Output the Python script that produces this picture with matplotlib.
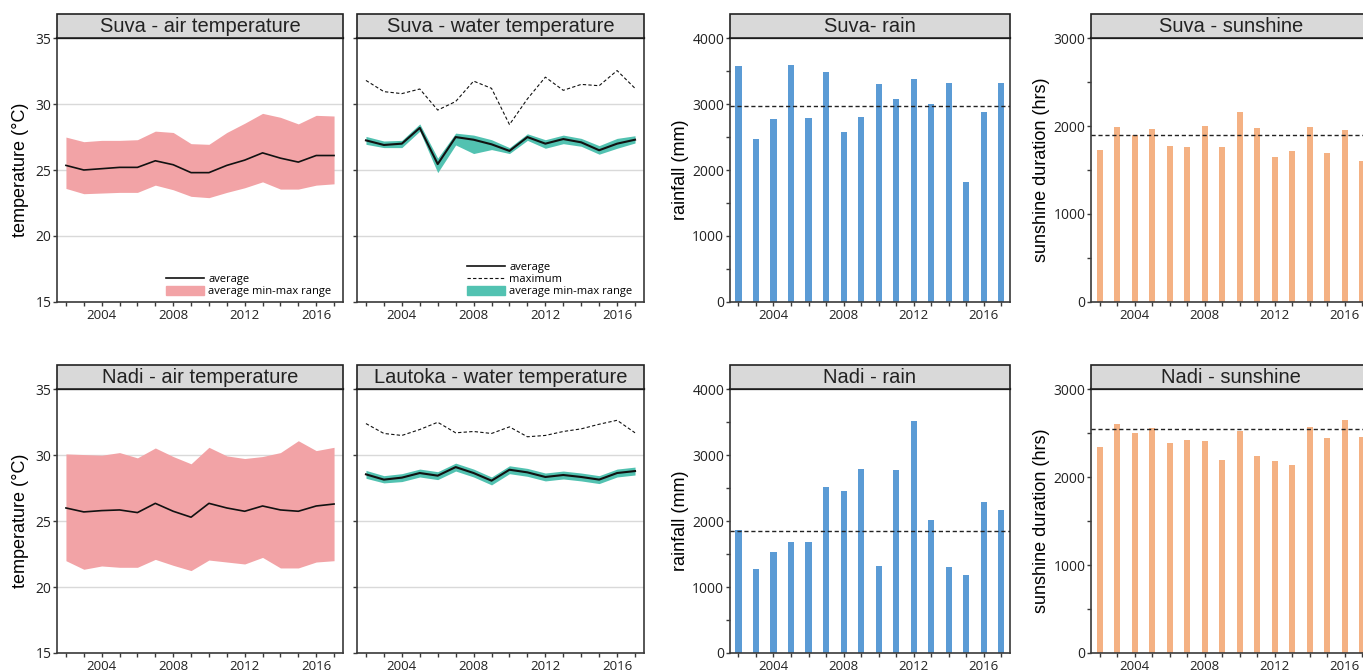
import numpy as np
import matplotlib
matplotlib.use("Agg")
import matplotlib.pyplot as plt
import matplotlib.patches as mpatches
from matplotlib.lines import Line2D
from matplotlib.ticker import FixedLocator, MultipleLocator

years = list(range(2002, 2018))
year_labels = [2004, 2008, 2012, 2016]

# Suva air temperature
suva_air_avg = [25.35, 25.0, 25.1, 25.2, 25.2, 25.7, 25.4, 24.8, 24.8, 25.35, 25.75, 26.3, 25.9, 25.6, 26.1, 26.1]
suva_air_max = [27.5, 27.15, 27.25, 27.25, 27.3, 27.95, 27.85, 27.0, 26.95, 27.85, 28.55, 29.3, 29.0, 28.5, 29.15, 29.1]
suva_air_min = [23.6, 23.2, 23.25, 23.3, 23.3, 23.85, 23.5, 23.0, 22.9, 23.3, 23.65, 24.1, 23.55, 23.55, 23.85, 23.95]

# Nadi air temperature
nadi_air_avg = [26.0, 25.7, 25.8, 25.85, 25.65, 26.35, 25.75, 25.3, 26.35, 26.0, 25.75, 26.15, 25.85, 25.75, 26.15, 26.3]
nadi_air_max = [30.1, 30.05, 30.0, 30.2, 29.8, 30.55, 29.9, 29.35, 30.6, 29.95, 29.75, 29.9, 30.2, 31.1, 30.35, 30.6]
nadi_air_min = [22.0, 21.35, 21.6, 21.5, 21.5, 22.1, 21.65, 21.25, 22.05, 21.9, 21.75, 22.25, 21.45, 21.45, 21.9, 22.0]

# Suva water temperature
suva_water_avg = [27.25, 26.9, 27.0, 28.2, 25.45, 27.5, 27.3, 26.95, 26.45, 27.5, 27.0, 27.35, 27.1, 26.5, 27.0, 27.3]
suva_water_hi = [27.55, 27.2, 27.25, 28.5, 25.9, 27.8, 27.65, 27.3, 26.7, 27.75, 27.3, 27.65, 27.4, 26.85, 27.4, 27.6]
suva_water_lo = [26.95, 26.7, 26.7, 27.95, 24.8, 26.9, 26.25, 26.55, 26.25, 27.25, 26.65, 27.0, 26.8, 26.2, 26.65, 27.05]
suva_water_max = [31.8, 30.95, 30.8, 31.15, 29.55, 30.2, 31.75, 31.2, 28.45, 30.4, 32.05, 31.05, 31.5, 31.4, 32.55, 31.2]

# Lautoka water temperature
lautoka_water_avg = [28.55, 28.15, 28.3, 28.65, 28.45, 29.1, 28.65, 28.07, 28.9, 28.7, 28.35, 28.5, 28.35, 28.15, 28.65, 28.8]
lautoka_water_hi = [28.85, 28.45, 28.6, 28.95, 28.75, 29.4, 28.95, 28.35, 29.2, 29.0, 28.65, 28.8, 28.65, 28.45, 28.95, 29.1]
lautoka_water_lo = [28.25, 27.9, 28.0, 28.35, 28.15, 28.8, 28.35, 27.75, 28.6, 28.4, 28.05, 28.2, 28.05, 27.85, 28.35, 28.5]
lautoka_water_max = [32.4, 31.65, 31.5, 31.95, 32.5, 31.7, 31.8, 31.65, 32.15, 31.4, 31.5, 31.8, 32.0, 32.35, 32.65, 31.7]

# rainfall (mm)
suva_rain = [3580, 2470, 2775, 3595, 2790, 3490, 2577, 2805, 3306, 3078, 3382, 3002, 3321, 1818, 2881, 3321]
suva_rain_mean = 2978
nadi_rain = [1863, 1271, 1529, 1681, 1681, 2516, 2456, 2790, 1316, 2775, 3519, 2015, 1301, 1180, 2289, 2167]
nadi_rain_mean = 1845

# sunshine (hrs)
suva_sun = [1727, 1990, 1895, 1967, 1773, 1762, 2001, 1762, 2160, 1978, 1648, 1716, 1990, 1693, 1955, 1602]
suva_sun_mean = 1895
nadi_sun = [2343, 2605, 2503, 2559, 2389, 2423, 2411, 2195, 2525, 2241, 2184, 2138, 2571, 2446, 2651, 2457]
nadi_sun_mean = 2544

PINK = "#f2a3a6"
TEAL = "#52c2b1"
BLUE = "#5b9bd5"
ORANGE = "#f4b183"
SPINE = "#3a3a3a"
TICKFONT = "Open Sans"

W, H = 1363, 672
fig = plt.figure(figsize=(W / 100, H / 100), dpi=100)


def px_axes(x0, x1, ytop, ybot):
    return fig.add_axes([x0 / W, 1 - ybot / H, (x1 - x0) / W, (ybot - ytop) / H])


def style(ax, title, ylim, yticks, minor_y=None, show_ylabels=True):
    ax.set_xlim(2001.5, 2017.5)
    ax.set_ylim(*ylim)
    ax.xaxis.set_major_locator(FixedLocator(year_labels))
    ax.xaxis.set_minor_locator(FixedLocator(years))
    ax.set_yticks(yticks)
    if minor_y:
        ax.yaxis.set_minor_locator(MultipleLocator(minor_y))
    ax.tick_params(axis="both", which="both", direction="out", length=3, width=1, color=SPINE)
    ax.tick_params(axis="x", labelsize=9.5, pad=2, labelcolor="#222222")
    ax.tick_params(axis="y", labelsize=10, pad=1, labelcolor="#222222")
    for lab in ax.get_xticklabels() + ax.get_yticklabels():
        lab.set_fontfamily(TICKFONT)
    if not show_ylabels:
        ax.set_yticklabels([])
    for s in ["left", "bottom", "right"]:
        ax.spines[s].set_color(SPINE)
        ax.spines[s].set_linewidth(1.2)
    ax.spines["top"].set_color("black")
    ax.spines["top"].set_linewidth(1.6)
    bbox = ax.get_position()
    strip_h = 24 / (bbox.height * H)
    rect = mpatches.Rectangle((0, 1), 1, strip_h, transform=ax.transAxes, clip_on=False,
                              facecolor="#d9d9d9", edgecolor="#222222", linewidth=1.2, zorder=5)
    ax.add_patch(rect)
    ax.text(0.5, 1 + strip_h / 2, title, transform=ax.transAxes, ha="center", va="center",
            fontsize=14.5, family="Liberation Sans", color="#222222", zorder=6)


def add_legend(ax, handles, labels):
    ax.legend(handles, labels, loc="lower right",
              bbox_to_anchor=(0.995, -0.022), frameon=False, handlelength=3.4,
              handleheight=0.95, labelspacing=0.05, handletextpad=0.4,
              prop={"family": TICKFONT, "size": 8})


def air_panel(ax, title, avg, lo, hi, legend):
    ax.yaxis.grid(True, color="#d9d9d9", linewidth=1)
    ax.set_axisbelow(True)
    ax.fill_between(years, lo, hi, color=PINK, linewidth=0, zorder=2)
    ax.plot(years, avg, color="#111111", linewidth=1.2, zorder=3)
    style(ax, title, (15, 35), [15, 20, 25, 30, 35])
    ax.set_ylabel("temperature (°C)", fontsize=13, family="Liberation Sans")
    ax.yaxis.set_label_coords(-0.098, 0.5)
    if legend:
        add_legend(ax, [Line2D([], [], color="#111111", linewidth=1.2), mpatches.Patch(color=PINK)],
                   ["average", "average min-max range"])


def water_panel(ax, title, avg, lo, hi, mx, legend):
    ax.yaxis.grid(True, color="#d9d9d9", linewidth=1)
    ax.set_axisbelow(True)
    ax.fill_between(years, lo, hi, color=TEAL, linewidth=0, zorder=2)
    ax.plot(years, avg, color="#111111", linewidth=1.5, zorder=3)
    ax.plot(years, mx, color="#111111", linewidth=0.8, linestyle=(0, (3, 2)), zorder=3)
    style(ax, title, (15, 35), [15, 20, 25, 30, 35], show_ylabels=False)
    if legend:
        add_legend(ax, [Line2D([], [], color="#111111", linewidth=1.2),
                        Line2D([], [], color="#111111", linewidth=0.8, linestyle=(0, (3, 2))),
                        mpatches.Patch(color=TEAL)],
                   ["average", "maximum", "average min-max range"])


def bar_panel(ax, title, values, mean, color, ylim, yticks, ylabel):
    ax.bar(years, values, width=0.35, color=color, zorder=2)
    ax.axhline(mean, color="#222222", linewidth=1, linestyle=(0, (3, 2)), zorder=3)
    style(ax, title, ylim, yticks, minor_y=500)
    ax.set_ylabel(ylabel, fontsize=13, family="Liberation Sans")
    ax.yaxis.set_label_coords(-0.145, 0.5)


rows = [(38.3, 301.7), (389.3, 653.0)]
cols = [(57, 343), (357, 644), (729.7, 1010), (1091, 1371)]

ax = px_axes(cols[0][0], cols[0][1], *rows[0])
air_panel(ax, "Suva - air temperature", suva_air_avg, suva_air_min, suva_air_max, True)
ax = px_axes(cols[0][0], cols[0][1], *rows[1])
air_panel(ax, "Nadi - air temperature", nadi_air_avg, nadi_air_min, nadi_air_max, False)

ax = px_axes(cols[1][0], cols[1][1], *rows[0])
water_panel(ax, "Suva - water temperature", suva_water_avg, suva_water_lo, suva_water_hi, suva_water_max, True)
ax = px_axes(cols[1][0], cols[1][1], *rows[1])
water_panel(ax, "Lautoka - water temperature", lautoka_water_avg, lautoka_water_lo, lautoka_water_hi,
            lautoka_water_max, False)

ax = px_axes(cols[2][0], cols[2][1], *rows[0])
bar_panel(ax, "Suva- rain", suva_rain, suva_rain_mean, BLUE, (0, 4000), [0, 1000, 2000, 3000, 4000], "rainfall (mm)")
ax = px_axes(cols[2][0], cols[2][1], *rows[1])
bar_panel(ax, "Nadi - rain", nadi_rain, nadi_rain_mean, BLUE, (0, 4000), [0, 1000, 2000, 3000, 4000], "rainfall (mm)")

ax = px_axes(cols[3][0], cols[3][1], *rows[0])
bar_panel(ax, "Suva - sunshine", suva_sun, suva_sun_mean, ORANGE, (0, 3000), [0, 1000, 2000, 3000],
          "sunshine duration (hrs)")
ax = px_axes(cols[3][0], cols[3][1], *rows[1])
bar_panel(ax, "Nadi - sunshine", nadi_sun, nadi_sun_mean, ORANGE, (0, 3000), [0, 1000, 2000, 3000],
          "sunshine duration (hrs)")

fig.savefig("out.png", dpi=100)
